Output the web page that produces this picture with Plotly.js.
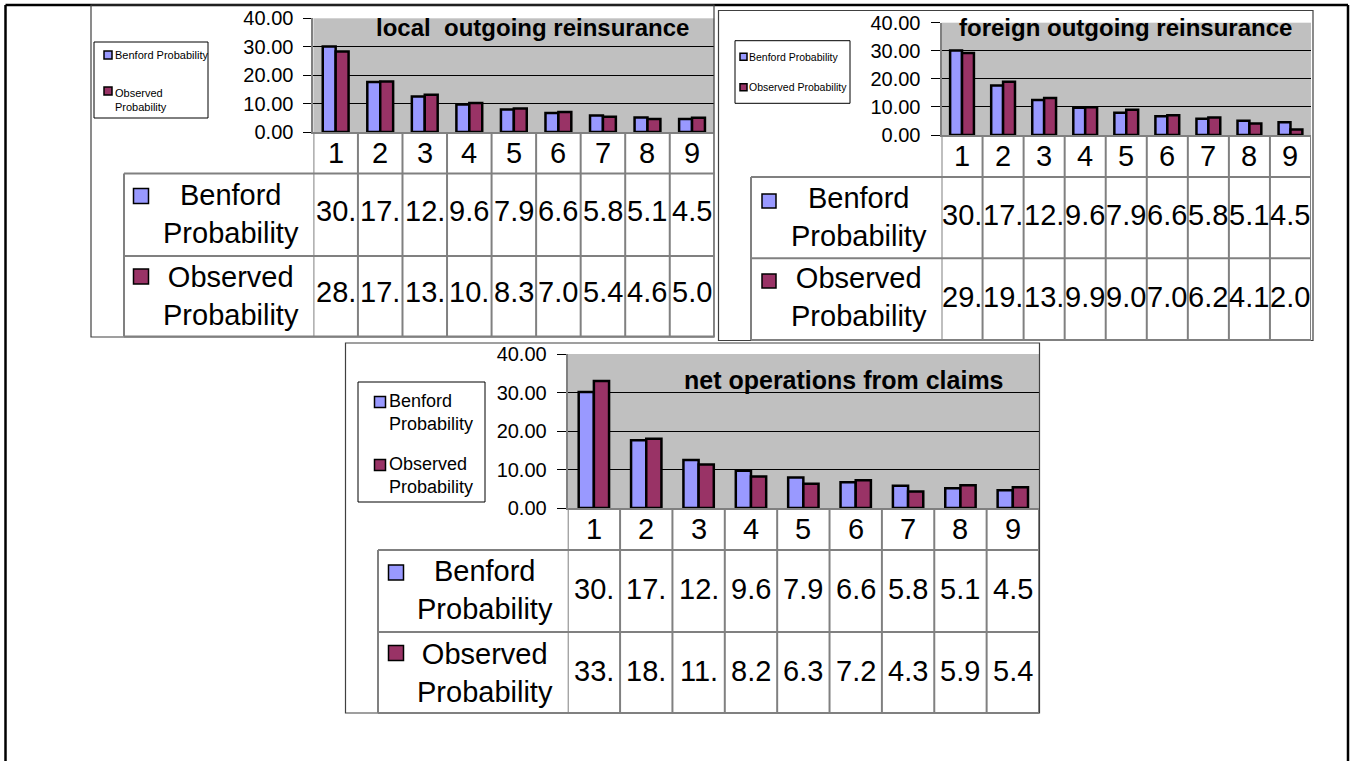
<!DOCTYPE html>
<html><head><meta charset="utf-8">
<script src="https://cdn.plot.ly/plotly-3.0.1.min.js"></script>
<style>html,body{margin:0;padding:0;background:#fff}#chart{width:1354px;height:761px}</style>
</head><body><div id="chart"></div>
<script>
// ---- data ----
const categories = ['1','2','3','4','5','6','7','8','9'];
const benford = [30.10, 17.61, 12.49, 9.69, 7.92, 6.69, 5.80, 5.12, 4.58];
const localObserved = [28.3, 17.8, 13.1, 10.2, 8.3, 7.0, 5.4, 4.6, 5.0];
const foreignObserved = [29.2, 19.0, 13.2, 9.9, 9.0, 7.0, 6.2, 4.1, 2.0];
const netObserved = [33.0, 18.0, 11.3, 8.2, 6.3, 7.2, 4.3, 5.9, 5.4];
const seriesNames = ['Benford Probability', 'Observed Probability'];
const chartTitles = ['local\u00A0 outgoing reinsurance', 'foreign outgoing reinsurance', 'net operations from claims'];
const yTicks = [0, 10, 20, 30, 40];

// ---- layout helpers ----
const W = 1354, H = 761;
const px = x => x / W;
const py = y => 1 - y / H;
const FONT = "Liberation Sans, Arial, sans-serif";
const BLUE = '#9999FF', PLUM = '#993366', TGRID = '#808080';
const cellText = v => v.toFixed(2).slice(0, 3);

const charts = [
  { observed: localObserved, title: chartTitles[0],
    frame: [91, 5, 714, 337],
    plot: {l: 313.4, r: 714.3, t: 18.3, b: 132}, ticklen: 8,
    table: {left: 124, top: 173.5, mid: 256, bottom: 336.5},
    catY: 153, valY: [211, 292],
    labelX: 231, labelY: [214, 295.5],
    keyX: 141, keyY: [196, 276.5], keySize: 15,
    titlePos: [532, 27], titleSize: 24,
    legend: {box: [94, 42, 208, 118], keyX: 108, keyY: [55, 91], keySize: 8,
             textX: 113, textY: [55, 99.5], size: 11,
             texts: ['Benford Probability', 'Observed<br>Probability']} },
  { observed: foreignObserved, title: chartTitles[1],
    frame: [718.5, 10.5, 1313, 340.5],
    plot: {l: 941.5, r: 1311, t: 22.7, b: 135}, ticklen: 9,
    table: {left: 751, top: 177, mid: 258.3, bottom: 340},
    catY: 156, valY: [215, 297],
    labelX: 859, labelY: [217.5, 297.5],
    keyX: 769, keyY: [201, 281], keySize: 14,
    titlePos: [1125, 28], titleSize: 24,
    legend: {box: [735, 40.7, 850, 103.3], keyX: 743.5, keyY: [56.7, 87.3], keySize: 7,
             textX: 747, textY: [56.7, 87.3], size: 10.5,
             texts: ['Benford Probability', 'Observed Probability']} },
  { observed: netObserved, title: chartTitles[2],
    frame: [345.5, 343, 1039.5, 713],
    plot: {l: 567.7, r: 1039, t: 354, b: 508}, ticklen: 9,
    table: {left: 378, top: 550, mid: 632, bottom: 713},
    catY: 529, valY: [589, 671],
    labelX: 485, labelY: [590, 672.5],
    keyX: 396, keyY: [572.5, 653], keySize: 15,
    titlePos: [844, 380], titleSize: 25,
    legend: {box: [358, 382, 485, 502], keyX: 380, keyY: [402, 465], keySize: 11,
             textX: 387, textY: [412, 475.5], size: 18,
             texts: ['Benford<br>Probability', 'Observed<br>Probability']} }
];

const traces = [];
const shapes = [];
const annotations = [];
const layout = {
  width: W, height: H, margin: {l: 0, r: 0, t: 0, b: 0},
  paper_bgcolor: '#ffffff', plot_bgcolor: '#C0C0C0',
  barmode: 'group', bargap: 0.42, bargroupgap: 0,
  showlegend: false, font: {family: FONT, color: '#000'}
};

const line = (x0, y0, x1, y1, color, width, xref, yref) => ({
  type: 'line', xref: xref || 'paper', yref: yref || 'paper',
  x0: x0, y0: y0, x1: x1, y1: y1, line: {color: color, width: width}
});
const rect = (l, t, r, b, fill, color, width) => ({
  type: 'rect', xref: 'paper', yref: 'paper',
  x0: px(l), y0: py(b), x1: px(r), y1: py(t),
  fillcolor: fill, line: {color: color, width: width}
});
const note = (x, y, text, size, opts) => Object.assign({
  xref: 'paper', yref: 'paper', x: x, y: y, text: text, showarrow: false,
  font: {family: FONT, size: size, color: '#000'}, xanchor: 'center', yanchor: 'middle'
}, opts || {});

// outer frame (bottom edge lies below the picture)
shapes.push(line(px(5.5), py(5), px(5.5), py(800), '#000', 2.5));
shapes.push(line(px(5.5), py(5), px(1348), py(5), '#000', 2.5));
shapes.push(line(px(1348), py(5), px(1348), py(800), '#000', 2.5));

charts.forEach((c, i) => {
  const s = i === 0 ? '' : String(i + 1);
  const xa = 'x' + s, ya = 'y' + s;
  // chart frame
  shapes.push(rect(c.frame[0], c.frame[1], c.frame[2], c.frame[3], 'rgba(0,0,0,0)', '#404040', 1.2));

  traces.push({type: 'bar', x: categories, y: benford, name: seriesNames[0],
    xaxis: xa, yaxis: ya, marker: {color: BLUE, line: {color: '#000', width: 2.5}}, hoverinfo: 'skip'});
  traces.push({type: 'bar', x: categories, y: c.observed, name: seriesNames[1],
    xaxis: xa, yaxis: ya, marker: {color: PLUM, line: {color: '#000', width: 2.5}}, hoverinfo: 'skip'});

  layout['xaxis' + s] = {
    domain: [px(c.plot.l), px(c.plot.r)], anchor: ya, type: 'category',
    range: [-0.5, categories.length - 0.5], showticklabels: false, ticks: '',
    showgrid: false, zeroline: false, showline: true, linecolor: TGRID, linewidth: 2, fixedrange: true
  };
  layout['yaxis' + s] = {
    domain: [py(c.plot.b), py(c.plot.t)], anchor: xa, range: [0, 40],
    tickvals: yTicks, tickformat: '.2f', ticks: 'outside', ticklen: c.ticklen, tickwidth: 1,
    tickcolor: '#000', showline: true, linecolor: TGRID, linewidth: 2,
    showgrid: true, gridcolor: '#000', gridwidth: 1, zeroline: false,
    tickfont: {family: FONT, size: 20, color: '#000'}, ticklabelstandoff: 6, fixedrange: true
  };

  // data table grid
  const T = c.table;
  categories.forEach((cat, k) => {
    shapes.push(line(k - 0.5, py(c.plot.b), k - 0.5, py(T.bottom), TGRID, 2, xa, 'paper'));
  });
  shapes.push(line(categories.length - 0.5, py(c.plot.b), categories.length - 0.5, py(T.bottom), TGRID, 2, xa, 'paper'));
  [T.top, T.mid, T.bottom].forEach(y => shapes.push(line(px(T.left), py(y), px(c.plot.r), py(y), TGRID, 2)));
  shapes.push(line(px(T.left), py(T.top), px(T.left), py(T.bottom), TGRID, 2));

  // category labels and table values (x = category index on the category axis)
  categories.forEach((cat, k) => {
    annotations.push(note(k, py(c.catY), cat, 29, {xref: xa}));
    annotations.push(note(k, py(c.valY[0]), cellText(benford[k]), 29, {xref: xa}));
    annotations.push(note(k, py(c.valY[1]), cellText(c.observed[k]), 29, {xref: xa}));
  });
  // table row headers with keys
  [BLUE, PLUM].forEach((col, r) => {
    const h = c.keySize / 2;
    shapes.push(rect(c.keyX - h, c.keyY[r] - h, c.keyX + h, c.keyY[r] + h, col, '#000', 1.5));
    const words = seriesNames[r].split(' ');
    annotations.push(note(px(c.labelX), py(c.labelY[r]), words[0] + '<br>' + words[1], 29));
  });

  // title
  annotations.push(note(px(c.titlePos[0]), py(c.titlePos[1]), '<b>' + c.title + '</b>', c.titleSize));

  // legend box
  const L = c.legend;
  shapes.push(rect(L.box[0], L.box[1], L.box[2], L.box[3], '#ffffff', '#000', 1));
  [BLUE, PLUM].forEach((col, r) => {
    const h = L.keySize / 2;
    shapes.push(rect(L.keyX - h, L.keyY[r] - h, L.keyX + h, L.keyY[r] + h, col, '#000', 1.5));
    annotations.push(note(px(L.textX), py(L.textY[r]), L.texts[r], L.size, {xanchor: 'left', align: 'left'}));
  });
});

layout.shapes = shapes;
layout.annotations = annotations;
Plotly.newPlot('chart', traces, layout, {staticPlot: true, displayModeBar: false});
</script>
</body></html>
